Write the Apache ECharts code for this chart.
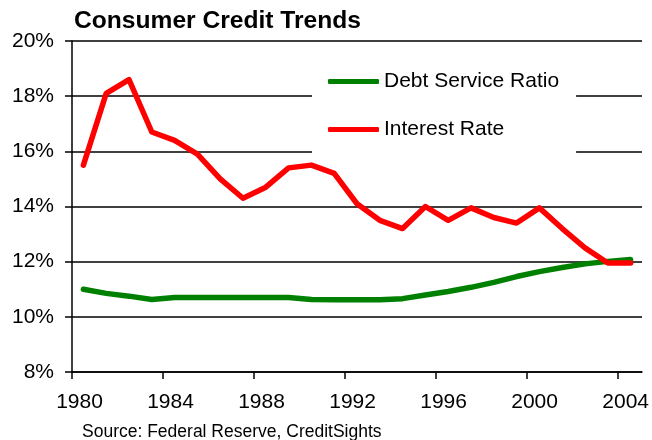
<!DOCTYPE html>
<html>
<head>
<meta charset="utf-8">
<script src="https://cdn.jsdelivr.net/npm/echarts@6/dist/echarts.min.js"></script>
<style>
  html, body { margin: 0; padding: 0; background: #fff; }
  #chart { width: 652px; height: 440px; }
</style>
</head>
<body>
<div id="chart"></div>
<script>
// Annual observations, one per category
const years = [1980, 1981, 1982, 1983, 1984, 1985, 1986, 1987, 1988, 1989,
               1990, 1991, 1992, 1993, 1994, 1995, 1996, 1997, 1998, 1999,
               2000, 2001, 2002, 2003, 2004];

// Household debt service ratio, %
const debtServiceRatio = [11.0, 10.85, 10.75, 10.63, 10.7, 10.7, 10.7, 10.7, 10.7, 10.7,
                          10.63, 10.62, 10.62, 10.62, 10.66, 10.79, 10.92, 11.07, 11.25, 11.46,
                          11.64, 11.79, 11.92, 12.01, 12.08];

// Consumer loan interest rate, %
const interestRate = [15.5, 18.1, 18.6, 16.7, 16.4, 15.9, 15.0, 14.3, 14.7, 15.4,
                      15.5, 15.2, 14.1, 13.5, 13.2, 14.0, 13.5, 13.95, 13.6, 13.4,
                      13.95, 13.2, 12.5, 11.95, 11.95];

// Year labels every four years along the bottom axis
const yearTickStart = 1980;
const yearTickEnd = 2004;
const yearTickStep = 4;

// Percent scale on the left axis
const pctMin = 8, pctMax = 20, pctStep = 2;

const seriesNames = ['Debt Service Ratio', 'Interest Rate'];

const FONT = "'Liberation Sans', Arial, sans-serif";
const chart = echarts.init(document.getElementById('chart'), null, { renderer: 'canvas' });

chart.setOption({
  backgroundColor: '#fff',
  animation: false,
  title: [
    {
      text: 'Consumer Credit Trends',
      left: 74, top: 9, padding: 0,
      textStyle: { fontFamily: FONT, fontSize: 24.6, fontWeight: 'bold', color: '#000' }
    },
    {
      text: 'Source: Federal Reserve, CreditSights',
      left: 82, top: 423, padding: 0,
      textStyle: { fontFamily: FONT, fontSize: 17.5, fontWeight: 'normal', color: '#000' }
    }
  ],
  legend: {
    data: seriesNames,
    orient: 'vertical',
    left: 312, top: 56,
    padding: [15, 17, 20, 16],
    itemGap: 27,
    itemWidth: 51, itemHeight: 5,
    icon: 'roundRect',
    backgroundColor: '#fff',
    textStyle: { fontFamily: FONT, fontSize: 21, color: '#000', lineHeight: 21 }
  },
  grid: [
    { left: 72, right: 10, top: 41, bottom: 68, containLabel: false },
    { left: 72, width: 549, top: 41, bottom: 68, containLabel: false }
  ],
  xAxis: [
    {
      gridIndex: 0,
      type: 'category',
      data: years.map(String),
      boundaryGap: true,
      axisLine: { show: true, lineStyle: { color: '#000', width: 1.5 } },
      axisTick: { show: false },
      axisLabel: { show: false },
      splitLine: { show: false }
    },
    {
      gridIndex: 1,
      type: 'value',
      min: yearTickStart, max: yearTickEnd, interval: yearTickStep,
      axisLine: { show: false },
      axisTick: { show: true, length: 7, lineStyle: { color: '#000', width: 1.5 } },
      axisLabel: {
        fontFamily: FONT, fontSize: 21, color: '#000', margin: 20,
        padding: [0, 0, 0, 15],
        formatter: v => String(v)
      },
      splitLine: { show: false }
    }
  ],
  yAxis: [
    {
      gridIndex: 0,
      type: 'value',
      min: pctMin, max: pctMax, interval: pctStep,
      axisLine: { show: true, lineStyle: { color: '#000', width: 1.5 } },
      axisTick: { show: true, length: 7, lineStyle: { color: '#000', width: 1.5 } },
      axisLabel: { fontFamily: FONT, fontSize: 21, color: '#000', margin: 18, formatter: '{value}%' },
      splitLine: { show: true, lineStyle: { color: '#000', width: 1.5 } }
    },
    { gridIndex: 1, type: 'value', min: 0, max: 1, show: false }
  ],
  series: [
    {
      name: seriesNames[0],
      type: 'line',
      xAxisIndex: 0, yAxisIndex: 0,
      data: debtServiceRatio,
      symbol: 'none',
      color: '#008000',
      lineStyle: { color: '#008000', width: 5.5, cap: 'round', join: 'round' }
    },
    {
      name: seriesNames[1],
      type: 'line',
      xAxisIndex: 0, yAxisIndex: 0,
      data: interestRate,
      symbol: 'none',
      color: '#ff0000',
      lineStyle: { color: '#ff0000', width: 5.5, cap: 'round', join: 'round' }
    }
  ]
});
</script>
</body>
</html>
